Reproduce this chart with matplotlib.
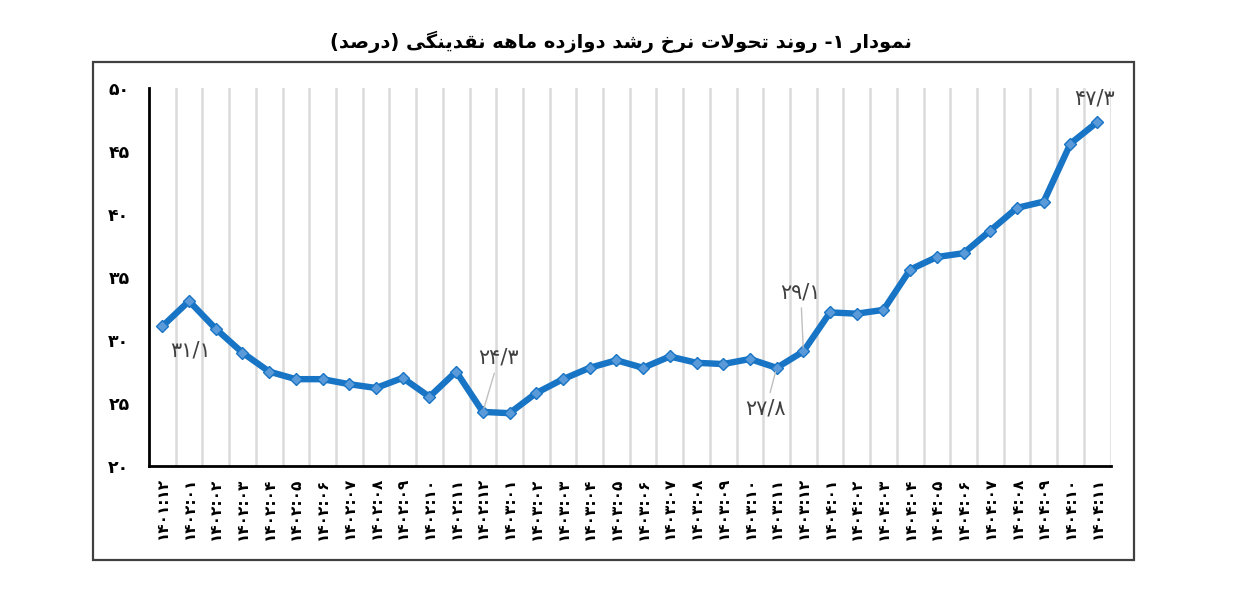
import matplotlib
matplotlib.use('Agg')
import matplotlib.pyplot as plt
from matplotlib.patches import Rectangle

# --- data ---
labels = ['۱۴۰۱:۱۲',
          '۱۴۰۲:۰۱', '۱۴۰۲:۰۲', '۱۴۰۲:۰۳', '۱۴۰۲:۰۴', '۱۴۰۲:۰۵', '۱۴۰۲:۰۶',
          '۱۴۰۲:۰۷', '۱۴۰۲:۰۸', '۱۴۰۲:۰۹', '۱۴۰۲:۱۰', '۱۴۰۲:۱۱', '۱۴۰۲:۱۲',
          '۱۴۰۳:۰۱', '۱۴۰۳:۰۲', '۱۴۰۳:۰۳', '۱۴۰۳:۰۴', '۱۴۰۳:۰۵', '۱۴۰۳:۰۶',
          '۱۴۰۳:۰۷', '۱۴۰۳:۰۸', '۱۴۰۳:۰۹', '۱۴۰۳:۱۰', '۱۴۰۳:۱۱', '۱۴۰۳:۱۲',
          '۱۴۰۴:۰۱', '۱۴۰۴:۰۲', '۱۴۰۴:۰۳', '۱۴۰۴:۰۴', '۱۴۰۴:۰۵', '۱۴۰۴:۰۶',
          '۱۴۰۴:۰۷', '۱۴۰۴:۰۸', '۱۴۰۴:۰۹', '۱۴۰۴:۱۰', '۱۴۰۴:۱۱']
growth = [31.1, 33.1, 30.9, 29.0, 27.5, 26.9, 26.9, 26.5, 26.2, 27.0, 25.5, 27.5,
          24.3, 24.2, 25.8, 26.9, 27.8, 28.4, 27.8, 28.7, 28.2, 28.1, 28.5, 27.8,
          29.1, 32.2, 32.1, 32.4, 35.6, 36.6, 36.9, 38.7, 40.5, 41.0, 45.6, 47.3]
yticks = [20, 25, 30, 35, 40, 45, 50]
ytick_labels = ['۲۰', '۲۵', '۳۰', '۳۵', '۴۰', '۴۵', '۵۰']
# index, label text, text position (x, y), leader line
notes = [(0, '۳۱/۱', 1.05, 29.2, False),
         (12, '۲۴/۳', 12.6, 28.6, True),
         (23, '۲۷/۸', 22.6, 24.6, True),
         (24, '۲۹/۱', 23.9, 33.8, True),
         (35, '۴۷/۳', 34.9, 49.2, False)]
title = 'نمودار ۱- روند تحولات نرخ رشد دوازده ماهه نقدینگی (درصد)'

# crude persian shaping: (isol, final, init, medial)
FORMS = {
    'ا': ('\uFE8D', '\uFE8E'), 'د': ('\uFEA9', '\uFEAA'),
    'ر': ('\uFEAD', '\uFEAE'), 'ز': ('\uFEAF', '\uFEB0'),
    'و': ('\uFEED', '\uFEEE'),
    'ن': ('\uFEE5', '\uFEE6', '\uFEE7', '\uFEE8'),
    'م': ('\uFEE1', '\uFEE2', '\uFEE3', '\uFEE4'),
    'ت': ('\uFE95', '\uFE96', '\uFE97', '\uFE98'),
    'ح': ('\uFEA1', '\uFEA2', '\uFEA3', '\uFEA4'),
    'ل': ('\uFEDD', '\uFEDE', '\uFEDF', '\uFEE0'),
    'خ': ('\uFEA5', '\uFEA6', '\uFEA7', '\uFEA8'),
    'ش': ('\uFEB5', '\uFEB6', '\uFEB7', '\uFEB8'),
    'ه': ('\uFEE9', '\uFEEA', '\uFEEB', '\uFEEC'),
    'ق': ('\uFED5', '\uFED6', '\uFED7', '\uFED8'),
    'ص': ('\uFEB9', '\uFEBA', '\uFEBB', '\uFEBC'),
    'ی': ('\uFBFC', '\uFBFD', '\uFBFE', '\uFBFF'),
    'گ': ('\uFB92', '\uFB93', '\uFB94', '\uFB95'),
}


def shape(s):
    out = []
    i = 0
    while i < len(s):
        c = s[i]
        prev = s[i - 1] if i > 0 else ''
        nxt = s[i + 1] if i + 1 < len(s) else ''
        pj = prev in FORMS and len(FORMS[prev]) == 4
        if c == 'ل' and nxt == 'ا':
            out.append('\uFEFC' if pj else '\uFEFB')
            i += 2
            continue
        if c in FORMS:
            f = FORMS[c]
            nj = nxt in FORMS and len(f) == 4
            if pj and nj:
                out.append(f[3])
            elif pj:
                out.append(f[1])
            elif nj:
                out.append(f[2])
            else:
                out.append(f[0])
        else:
            out.append(c)
        i += 1
    vis = ''.join(out)[::-1]
    return vis.replace('(', '\0').replace(')', '(').replace('\0', ')')


plt.rcParams['font.family'] = ['DejaVu Sans']

fig = plt.figure(figsize=(12.52, 5.96), dpi=100)
ax = fig.add_axes([0.119, 0.218, 0.768, 0.634])

x = list(range(len(growth)))
ax.plot(x, growth, color='#1874c4', lw=4.6, marker='D', markersize=6.5,
        markerfacecolor='#5a9ad8', markeredgecolor='#1874c4', markeredgewidth=1,
        zorder=3)

for idx, txt, tx, ty, lead in notes:
    if lead:
        ax.annotate(txt, xy=(idx, growth[idx]), xytext=(tx, ty),
                    ha='center', va='center', fontsize=15, color='#404040',
                    arrowprops=dict(arrowstyle='-', color='#bfbfbf', lw=1,
                                    shrinkA=2, shrinkB=3), zorder=4)
    else:
        ax.text(tx, ty, txt, ha='center', va='center', fontsize=15,
                color='#404040', zorder=4)

ax.set_xlim(-0.5, len(growth) - 0.5)
ax.set_ylim(20, 50)
ax.set_yticks(yticks)
ax.set_yticklabels(ytick_labels, fontsize=12.5, fontweight='bold')
ax.set_xticks(x)
ax.set_xticklabels(labels, rotation=90, fontsize=11, fontweight='bold')
ax.set_xticks([i + 0.5 for i in range(len(growth))], minor=True)
ax.tick_params(axis='both', which='both', length=0)
ax.tick_params(axis='y', pad=14)
ax.tick_params(axis='x', pad=8)
ax.grid(axis='x', which='minor', color='#dadada', lw=1.8)
ax.grid(axis='x', which='major', visible=False)
for s in ['top', 'right']:
    ax.spines[s].set_visible(False)
for s in ['left', 'bottom']:
    ax.spines[s].set_linewidth(2)
    ax.spines[s].set_color('black')

fig.text(0.496, 0.929, shape(title), ha='center', va='center', fontsize=14,
         fontweight='bold')

fig.patches.append(Rectangle((0.0743, 0.0604), 0.8315, 0.8356,
                             transform=fig.transFigure, fill=False,
                             edgecolor='#404040', lw=1.6))

plt.savefig('out.png', dpi=100)
